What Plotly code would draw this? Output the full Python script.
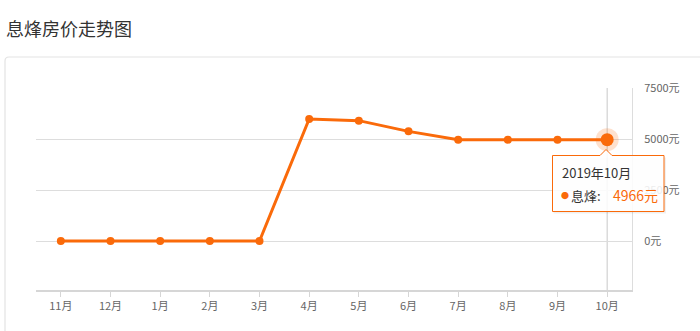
import plotly.graph_objects as go

months = ["11月", "12月", "1月", "2月", "3月", "4月", "5月", "6月", "7月", "8月", "9月", "10月"]
prices = [0, 0, 0, 0, 0, 5980, 5900, 5375, 4966, 4966, 4966, 4966]
ytick_vals = [0, 2500, 5000, 7500]
ytick_text = ["0元", "2500元", "5000元", "7500元"]
title_text = "息烽房价走势图"
tip_title = "2019年10月"
tip_name = "息烽:"
tip_value = "4966元"

W, H = 700, 331
L, R, T, B = 36, 632, 88, 290
PW, PH = R - L, B - T

def px(x):
    return (x - L) / PW

def py(y):
    return (B - y) / PH

ORANGE = "#fa6a0a"
FONT = "Noto Sans CJK SC, Microsoft YaHei, sans-serif"

fig = go.Figure()
fig.add_trace(go.Scatter(
    x=months, y=prices, mode="lines+markers",
    line=dict(color=ORANGE, width=3),
    marker=dict(color=ORANGE, size=8),
    hoverinfo="skip", showlegend=False, cliponaxis=False,
))
# highlighted last point with halo
fig.add_trace(go.Scatter(
    x=[months[-1]], y=[prices[-1]], mode="markers",
    marker=dict(color="rgba(250,106,10,0.2)", size=23),
    hoverinfo="skip", showlegend=False, cliponaxis=False,
))
fig.add_trace(go.Scatter(
    x=[months[-1]], y=[prices[-1]], mode="markers",
    marker=dict(color=ORANGE, size=13),
    hoverinfo="skip", showlegend=False, cliponaxis=False,
))

shapes = []
# outer card border (rounded top-left)
r = 4
x0p, y0p = 5, 57
path = (f"M {px(x0p)},{py(345)} L {px(x0p)},{py(y0p + r)} "
        f"Q {px(x0p)},{py(y0p)} {px(x0p + r)},{py(y0p)} L {px(705)},{py(y0p)}")
shapes.append(dict(type="path", xref="paper", yref="paper", path=path,
                   line=dict(color="#e3e3e3", width=1.2), layer="below"))
# crosshair line
shapes.append(dict(type="line", xref="x", yref="paper", x0=11, x1=11, y0=0, y1=1,
                   line=dict(color="#c8c8c8", width=1), layer="below"))
# tooltip box with pointer
tl, tr, tt, tb, ax = 552.5, 664, 155.5, 211.5, 606
tp = (f"M {px(tl)},{py(tt)} L {px(ax - 6)},{py(tt)} L {px(ax)},{py(149.5)} "
      f"L {px(ax + 6)},{py(tt)} L {px(tr)},{py(tt)} L {px(tr)},{py(tb)} "
      f"L {px(tl)},{py(tb)} Z")
shadow = (f"M {px(tl+1)},{py(tt+2)} L {px(tr+2)},{py(tt+2)} L {px(tr+2)},{py(tb+2)} "
          f"L {px(tl+1)},{py(tb+2)} Z")
shapes.append(dict(type="path", xref="paper", yref="paper", path=shadow,
                   fillcolor="rgba(0,0,0,0.06)", line=dict(width=0), layer="above"))
shapes.append(dict(type="path", xref="paper", yref="paper", path=tp,
                   fillcolor="rgba(255,255,255,0.88)",
                   line=dict(color=ORANGE, width=1), layer="above"))

annotations = [
    dict(text=title_text, xref="paper", yref="paper", x=px(4), y=py(28),
         xanchor="left", yanchor="middle", showarrow=False,
         font=dict(size=18, color="#333333", family=FONT)),
    dict(text=tip_title, xref="paper", yref="paper", x=px(560), y=py(172),
         xanchor="left", yanchor="middle", showarrow=False,
         font=dict(size=13, color="#333333", family=FONT)),
    dict(text="●", xref="paper", yref="paper", x=px(559), y=py(195),
         xanchor="left", yanchor="middle", showarrow=False,
         font=dict(size=8, color=ORANGE, family=FONT)),
    dict(text=tip_name, xref="paper", yref="paper", x=px(569), y=py(195),
         xanchor="left", yanchor="middle", showarrow=False,
         font=dict(size=13, color="#333333", family=FONT)),
    dict(text=tip_value, xref="paper", yref="paper", x=px(611), y=py(195),
         xanchor="left", yanchor="middle", showarrow=False,
         font=dict(size=14, color=ORANGE, family=FONT)),
]

fig.update_layout(
    width=W, height=H,
    margin=dict(l=L, r=W - R, t=T, b=H - B, pad=0),
    paper_bgcolor="white", plot_bgcolor="white",
    font=dict(family=FONT, color="#666666", size=11),
    shapes=shapes, annotations=annotations,
    xaxis=dict(type="category", range=[-0.5, 11.5], showgrid=False,
               showline=True, linecolor="#d6d6d6", linewidth=2,
               ticks="outside", ticklen=5, tickcolor="#d6d6d6",
               tickfont=dict(size=11, color="#666666"), fixedrange=True),
    yaxis=dict(side="right", range=[-2400, 7500], tickvals=ytick_vals,
               ticktext=ytick_text, showgrid=True, gridcolor="#dddddd",
               gridwidth=1, zeroline=False, showline=True, linecolor="#dddddd",
               linewidth=1, ticks="", ticklabelstandoff=9,
               tickfont=dict(size=11, color="#666666"), fixedrange=True),
)

fig.write_html("out.html", config={"displayModeBar": False})
